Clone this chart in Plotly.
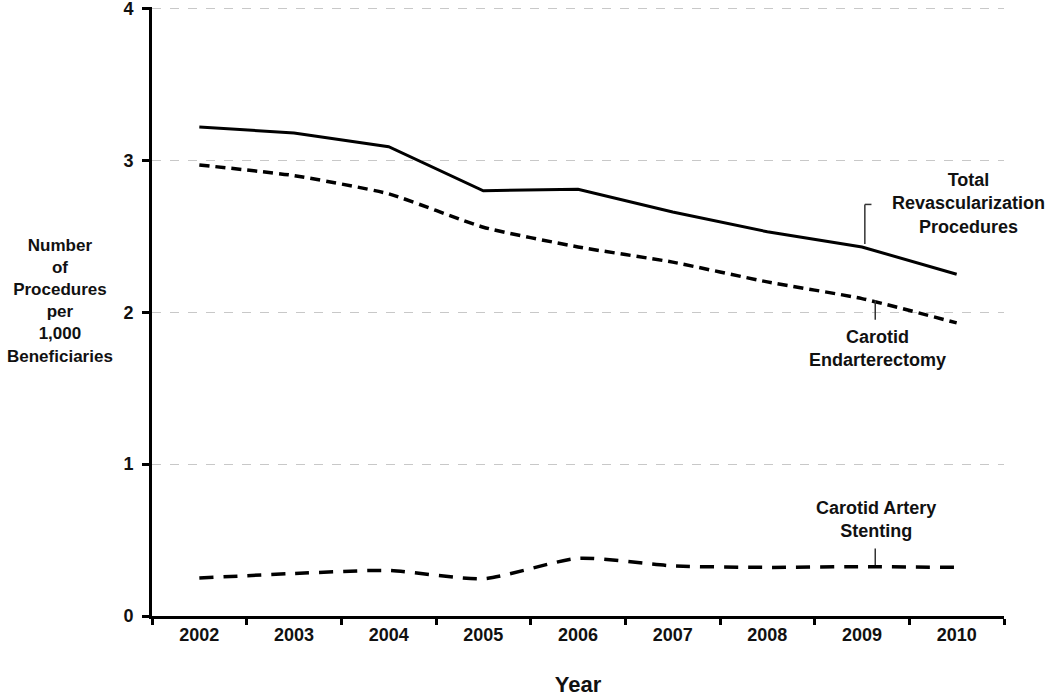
import plotly.graph_objects as go

# data
years = ["2002", "2003", "2004", "2005", "2006", "2007", "2008", "2009", "2010"]
total_revasc = [3.22, 3.18, 3.09, 2.80, 2.81, 2.66, 2.53, 2.43, 2.25]
endarterectomy = [2.97, 2.90, 2.78, 2.56, 2.43, 2.33, 2.20, 2.09, 1.93]
stenting = [0.25, 0.28, 0.30, 0.245, 0.38, 0.33, 0.32, 0.325, 0.32]
y_ticks = [0, 1, 2, 3, 4]

FONT = "Liberation Sans, Arial, sans-serif"
Y_TOP = 4.01  # a hair above 4 so the top gridline is drawn

fig = go.Figure()
fig.add_trace(go.Scatter(x=years, y=total_revasc, mode="lines",
                         line=dict(color="black", width=3), name="Total"))
fig.add_trace(go.Scatter(x=years, y=endarterectomy, mode="lines",
                         line=dict(color="black", width=3.5, dash="10px,6px", shape="spline", smoothing=0.5),
                         name="Carotid Endarterectomy"))
fig.add_trace(go.Scatter(x=years, y=stenting, mode="lines",
                         line=dict(color="black", width=3.5, dash="14px,10px", shape="spline", smoothing=0.6),
                         name="Carotid Artery Stenting"))

# callout leaders, anchored on the 2009 values
i = years.index("2009")
lead = dict(color="#333", width=1.5)
fig.add_shape(type="line", xref="x", yref="y", x0=i + 0.03, x1=i + 0.03,
              y0=total_revasc[i] + 0.02, y1=total_revasc[i] + 0.28, line=lead)
fig.add_shape(type="line", xref="x", yref="y", x0=i + 0.03, x1=i + 0.1,
              y0=total_revasc[i] + 0.28, y1=total_revasc[i] + 0.28, line=lead)
fig.add_shape(type="line", xref="x", yref="y", x0=i + 0.14, x1=i + 0.14,
              y0=endarterectomy[i] - 0.01, y1=endarterectomy[i] - 0.14, line=lead)
fig.add_shape(type="line", xref="x", yref="y", x0=i + 0.14, x1=i + 0.14,
              y0=stenting[i] + 0.01, y1=stenting[i] + 0.12, line=lead)

lab = dict(family=FONT, size=18, color="#111", weight="bold")


def px_x(p):
    # page pixel -> paper fraction of the plot area (152..1004)
    return (p - 152) / 852


def px_y(p):
    # page pixel -> paper fraction (y=0 at 616, 152 px per unit)
    return (616 - p) / 152 / Y_TOP


fig.add_annotation(text="Total<br>Revascularization<br>Procedures", xref="paper", yref="paper",
                   x=px_x(968), y=px_y(203), xanchor="center", yanchor="middle",
                   showarrow=False, font=lab, align="center")
fig.add_annotation(text="Carotid<br>Endarterectomy", xref="paper", yref="paper",
                   x=px_x(877), y=px_y(348), xanchor="center", yanchor="middle",
                   showarrow=False, font=lab, align="center")
fig.add_annotation(text="Carotid Artery<br>Stenting", xref="paper", yref="paper",
                   x=px_x(876), y=px_y(519), xanchor="center", yanchor="middle",
                   showarrow=False, font=lab, align="center")
fig.add_annotation(text="Number<br>of<br>Procedures<br>per<br>1,000<br>Beneficiaries",
                   xref="paper", yref="paper", x=px_x(60), y=px_y(301),
                   xanchor="center", yanchor="middle",
                   showarrow=False, font=dict(lab, size=17), align="center")

tickf = dict(family=FONT, size=18, color="#111", weight="bold")
fig.update_layout(
    width=1050, height=697,
    margin=dict(l=152, r=46, t=7, b=81),
    plot_bgcolor="white", paper_bgcolor="white",
    showlegend=False,
    font=dict(family=FONT, size=14, color="black"),
    xaxis=dict(type="category", range=[-0.5, 8.5], tickson="boundaries", ticks="outside",
               ticklen=6, tickwidth=2.5, tickcolor="black", showline=True, linecolor="black",
               linewidth=3, showgrid=False, tickfont=tickf, ticklabeloverflow="allow",
               automargin=False,
               title=dict(text="Year", font=dict(family=FONT, size=22, weight="bold", color="#111"),
                          standoff=44)),
    yaxis=dict(range=[0, Y_TOP], tickvals=y_ticks, ticks="outside", ticklen=7, tickwidth=3,
               tickcolor="black", showline=True, linecolor="black", linewidth=3,
               showgrid=True, gridcolor="#c8c8c8", griddash="dash", gridwidth=1,
               zeroline=False, tickfont=tickf, ticklabeloverflow="allow", ticklabelstandoff=5,
               automargin=False),
)

# drop the browser's default 8px body margin so the figure sits at the window corner
fig.write_html("out.html", config={"displayModeBar": False},
               post_script="document.body.style.margin = '0';")
